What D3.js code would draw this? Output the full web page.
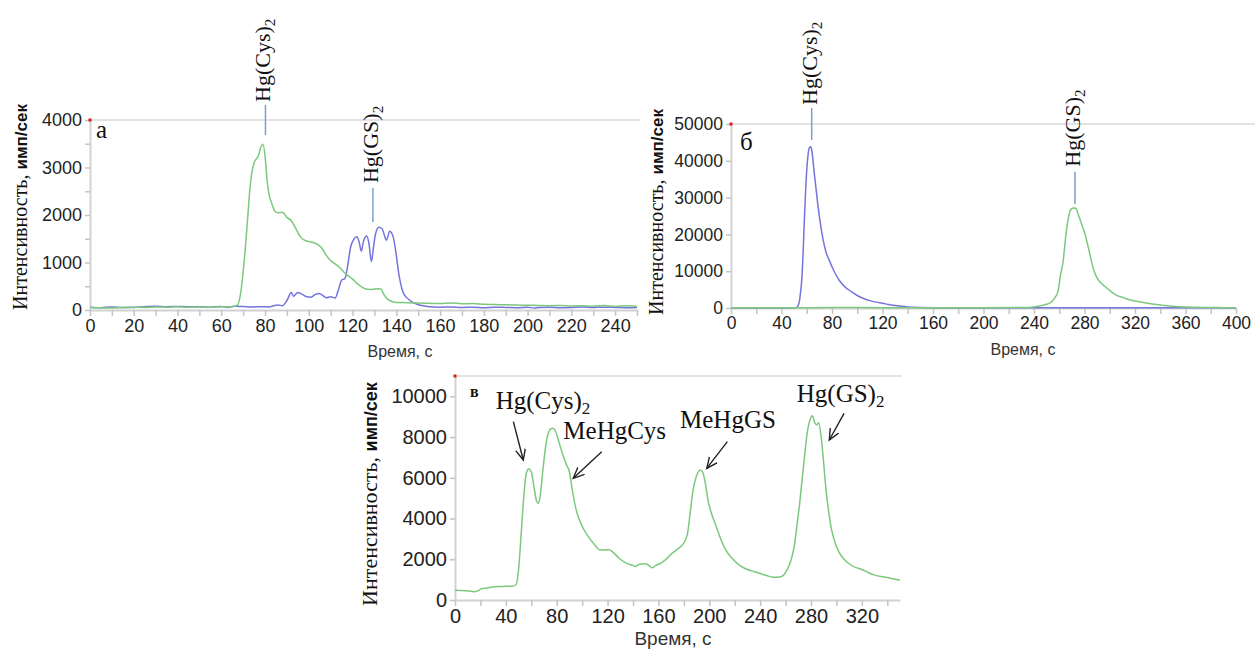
<!DOCTYPE html>
<html>
<head>
<meta charset="utf-8">
<script src="https://cdn.jsdelivr.net/npm/d3@7"></script>
<style>
body { margin: 0; background: #fff; }
svg { display: block; }
.axis .domain { stroke: #d2d2d2; stroke-width: 2; }
.axis .tick line { stroke: #c4c4c4; stroke-width: 1.5; }
.axis .tick text { fill: #222; }
</style>
</head>
<body>
<svg id="chart" width="1255" height="650"></svg>
<script>
// ---- panel а (Hg(Cys)2 green, Hg(GS)2 blue) ----
var aGreenTime = [0,5,10,15,20,25,30,35,40,45,50,55,60,63,66,67.5,69,70,71,72,73,74,75,76,77,78,79,80,81,82,83,84.5,86,88,90,92,94,96,98,100,102,104,106,108,110,112,114,116,118,120,122,124,126,128,130,132,133,134,136,138,140,145,150,155,160,165,170,175,180,185,190,195,200,205,210,215,220,225,230,235,240,245,250];
var aGreenVal = [50,45,40,55,60,55,65,60,70,60,65,60,70,65,80,110,400,800,1300,1900,2500,2900,3100,3180,3250,3420,3490,3250,2700,2400,2250,2080,2050,2060,1950,1880,1720,1550,1470,1440,1420,1380,1300,1150,1040,970,900,800,720,650,560,490,440,430,440,450,440,350,230,180,160,155,145,140,135,150,130,135,120,115,110,105,100,95,90,95,85,90,80,95,75,90,80];
var aBlueTime = [0,5,10,15,20,25,30,35,40,45,50,55,60,63,66,70,74,78,82,84,86,88,90,92,93,95,97,99,101,103,104.5,106,108,110,112,113.5,115,116.5,118,119,120.5,122,123,124,125,126.5,127.5,128.6,129.5,130.5,132,133.5,134.5,135.5,137,138.5,140,141,142,143,145,148,151,155,160,165,170,175,180,185,190,195,200,203,205,210,215,220,225,230,235,240,245,250];
var aBlueVal = [60,50,65,55,55,70,80,70,75,70,70,60,75,55,80,75,65,70,65,90,105,90,200,370,290,370,330,280,270,330,350,320,260,280,250,420,630,660,1000,1300,1480,1540,1430,1240,1450,1560,1400,1020,1300,1600,1740,1710,1580,1470,1660,1550,1150,800,550,380,250,150,100,70,60,65,55,60,50,60,55,50,60,40,55,60,50,55,65,55,60,55,50,55];
var aXTicks = d3.range(0, 251, 10);
var aYTicks = d3.range(0, 4001, 500);
var aPeakName = ["Hg(Cys)", "Hg(GS)"];
var aPeakTime = [80.2, 129.3];
var aPeakLo = [3684, 1853];
var aPeakHi = [4316, 2568];

// ---- panel б ----
var bBlueTime = [0,20,40,50,52,54,55,56,57,58,59,60,61,62,63,64,65,66,67,69,71,73,75,78,80,83,86,90,95,100,105,110,115,120,125,130,135,140,145,150,160,180,200,250,300,350,400];
var bBlueVal = [80,90,80,90,150,1500,4000,7500,14000,23000,31000,37500,41500,43500,43800,42800,40000,36500,33500,27500,22500,18500,15500,12800,11200,9100,7400,5800,4500,3400,2600,2000,1600,1300,950,650,450,300,200,150,100,80,70,60,50,50,50];
var bGreenTime = [0,40,80,120,160,200,230,240,245,250,254,257,259,261,263,265,267,269,271,273,275,277,280,283,286,289,292,296,301,305,310,315,320,325,330,340,350,360,370,380,390,400];
var bGreenVal = [100,80,120,100,90,100,150,300,600,1000,1700,3000,4500,9000,12500,19000,24000,26700,27200,27100,25500,23500,20500,16500,12000,8800,7200,5900,4500,3500,2900,2300,1900,1600,1300,800,450,250,180,130,100,80];
var bXTicks = d3.range(0, 401, 20);
var bYTicks = d3.range(0, 50001, 10000);
var bPeakName = ["Hg(Cys)", "Hg(GS)"];
var bPeakTime = [63.9, 272.5];
var bPeakLo = [45652, 28261];
var bPeakHi = [54348, 37038];

// ---- panel в ----
var cGreenTime = [0,5,10,15,18,21,25,30,35,40,45,48,50,52,54,56,58,60,62,64,65.5,67,69,71,73,75,77,79,82,85,88,90,92,95,98,101,105,110,114,118,121,125,130,135,140,142,145,149,152,155,158,161,165,170,175,180,183,185,187,189,191,193,195,197,199,202,205,209,213,218,222,226,230,235,240,245,250,255,258,261,264,267,269,271,273,275,277,279,281,283,284.5,286,288,290,292,294,296,299,302,306,310,315,320,325,330,335,340,345,350];
var cGreenVal = [480,470,450,410,450,560,590,640,660,670,680,750,1500,3200,5000,6200,6450,6300,5600,4900,4750,5100,6300,7400,8100,8380,8430,8300,7700,7100,6600,6300,5500,4500,3900,3500,3100,2700,2450,2450,2480,2300,2000,1800,1700,1640,1760,1780,1720,1580,1700,1780,1950,2250,2500,2800,3300,4300,5300,5900,6250,6380,6250,5700,4900,4200,3700,3000,2450,2050,1800,1620,1500,1400,1300,1200,1120,1130,1200,1450,1900,2700,3700,4700,5900,7100,8200,8800,9050,8700,8600,8700,8000,6700,5300,4300,3500,2800,2350,2000,1780,1600,1500,1350,1220,1150,1100,1030,980];
var cXTicks = d3.range(0, 341, 20);
var cYTicks = d3.range(0, 10001, 2000);
var cLabelText = ["Hg(Cys)", "MeHgCys", "MeHgGS", "Hg(GS)"];
var cLabelSub = ["2", "", "", "2"];
var cLabelTime = [32, 85.2, 177, 268.8];
var cLabelVal = [9364, 7891, 8432, 9738];
var cArrowFrom = [[45.9, 8756], [115.4, 7282], [214.2, 7774], [306, 9168]];
var cArrowTo = [[53.7, 6875], [93, 5976], [198, 6467], [294.4, 7857]];

var GREEN = "#7cc87c";
var BLUE = "#7474de";
var SANS = "'Liberation Sans', Arial, sans-serif";
var SERIF = "'Liberation Serif', 'Times New Roman', serif";

var svg = d3.select("#chart");

svg.append("defs").append("marker")
  .attr("id", "arrow")
  .attr("markerUnits", "userSpaceOnUse")
  .attr("markerWidth", 14).attr("markerHeight", 12)
  .attr("refX", 11).attr("refY", 5)
  .attr("orient", "auto")
  .append("path")
  .attr("d", "M0,0 L11,5 L0,10")
  .attr("fill", "none").attr("stroke", "#222").attr("stroke-width", 1.4);

function drawPanel(cfg) {
  var g = svg.append("g");
  var x = d3.scaleLinear().domain(cfg.xDomain).range(cfg.xRange);
  var y = d3.scaleLinear().domain(cfg.yDomain).range(cfg.yRange);

  // grid line on top
  g.append("line")
    .attr("x1", x(0)).attr("x2", cfg.gridEnd)
    .attr("y1", y(cfg.yDomain[1])).attr("y2", y(cfg.yDomain[1]))
    .attr("stroke", "#dadada").attr("stroke-width", 1.5);

  g.append("g").attr("class", "axis")
    .attr("transform", "translate(0," + y(0) + ")")
    .call(d3.axisBottom(x).tickValues(cfg.xTicks).tickSize(6).tickSizeOuter(0).tickPadding(3)
      .tickFormat(function(d) { return d % cfg.xLabelStep === 0 ? d : ""; }))
    .attr("font-family", SANS).attr("font-size", cfg.fontSize);

  g.append("g").attr("class", "axis")
    .attr("transform", "translate(" + x(0) + ",0)")
    .call(d3.axisLeft(y).tickValues(cfg.yTicks).tickSize(5).tickSizeOuter(0).tickPadding(3)
      .tickFormat(function(d) { return d % cfg.yLabelStep === 0 ? d : ""; }))
    .attr("font-family", SANS).attr("font-size", cfg.fontSize);

  // little red mark at the corner
  g.append("rect")
    .attr("x", x(0) - 1.5).attr("y", y(cfg.yDomain[1]) - 1.5)
    .attr("width", 3).attr("height", 3).attr("fill", "#e01818");

  var line = d3.line()
    .x(function(d) { return x(d[0]); })
    .y(function(d) { return y(d[1]); })
    .curve(d3.curveMonotoneX);

  cfg.series.forEach(function(s) {
    g.append("path")
      .datum(d3.zip(s.t, s.v))
      .attr("fill", "none").attr("stroke", s.color).attr("stroke-width", 1.5)
      .attr("d", line);
  });

  // y title: serif part + bold sans part
  var yt = g.append("text")
    .attr("transform", "translate(" + cfg.yTitle[0] + "," + cfg.yTitle[1] + ") rotate(-90)")
    .attr("text-anchor", "middle").attr("fill", "#111");
  yt.append("tspan").attr("font-family", SERIF).attr("font-size", cfg.yTitleSize[0]).text("Интенсивность, ");
  yt.append("tspan").attr("font-family", SANS).attr("font-weight", "bold").attr("font-size", cfg.yTitleSize[1]).text("имп/сек");

  g.append("text")
    .attr("x", cfg.xTitle[0]).attr("y", cfg.xTitle[1])
    .attr("text-anchor", "middle").attr("font-family", SANS).attr("font-size", cfg.xTitleSize)
    .attr("fill", "#333").text("Время, с");

  g.append("text")
    .attr("x", cfg.letter[0]).attr("y", cfg.letter[1])
    .attr("font-family", SERIF).attr("font-size", cfg.letterSize).attr("font-weight", cfg.letterWeight || "normal")
    .attr("fill", "#111").text(cfg.letterText);

  return { g: g, x: x, y: y };
}

function peakLabels(p, names, times, lo, hi, gap) {
  names.forEach(function(n, i) {
    var px = p.x(times[i]);
    p.g.append("line")
      .attr("x1", px).attr("x2", px)
      .attr("y1", p.y(lo[i])).attr("y2", p.y(hi[i]))
      .attr("stroke", "#7ba0cc").attr("stroke-width", 1.5);
    var t = p.g.append("text")
      .attr("transform", "translate(" + (px + 5) + "," + (p.y(hi[i]) - gap[i]) + ") rotate(-90)")
      .attr("font-family", SERIF).attr("font-size", 22).attr("fill", "#111");
    t.append("tspan").text(n);
    t.append("tspan").attr("font-size", 15).attr("dy", 5).text("2");
  });
}

var pa = drawPanel({
  xDomain: [0, 250], xRange: [90, 637],
  yDomain: [0, 4000], yRange: [310, 120],
  gridEnd: 640,
  xTicks: aXTicks, xLabelStep: 20,
  yTicks: aYTicks, yLabelStep: 1000,
  fontSize: 18,
  series: [
    { t: aBlueTime, v: aBlueVal, color: BLUE },
    { t: aGreenTime, v: aGreenVal, color: GREEN }
  ],
  yTitle: [27, 207], yTitleSize: [20, 17],
  xTitle: [400, 357], xTitleSize: 16,
  letter: [96, 138], letterSize: 25, letterText: "а"
});
peakLabels(pa, aPeakName, aPeakTime, aPeakLo, aPeakHi, [3, 5]);

var pb = drawPanel({
  xDomain: [0, 400], xRange: [731, 1236],
  yDomain: [0, 50000], yRange: [308, 124],
  gridEnd: 1255,
  xTicks: bXTicks, xLabelStep: 40,
  yTicks: bYTicks, yLabelStep: 10000,
  fontSize: 17.5,
  series: [
    { t: bBlueTime, v: bBlueVal, color: BLUE },
    { t: bGreenTime, v: bGreenVal, color: GREEN }
  ],
  yTitle: [663, 212], yTitleSize: [20, 17],
  xTitle: [1023, 355], xTitleSize: 16,
  letter: [740, 150], letterSize: 25, letterText: "б"
});
peakLabels(pb, bPeakName, bPeakTime, bPeakLo, bPeakHi, [3, 5]);

var pc = drawPanel({
  xDomain: [0, 350], xRange: [455, 900],
  yDomain: [0, 11000], yRange: [600, 376],
  gridEnd: 902,
  xTicks: cXTicks, xLabelStep: 40,
  yTicks: cYTicks, yLabelStep: 2000,
  fontSize: 20,
  series: [
    { t: cGreenTime, v: cGreenVal, color: GREEN }
  ],
  yTitle: [377, 494], yTitleSize: [22, 18],
  xTitle: [673, 645], xTitleSize: 19,
  letter: [470, 397], letterSize: 16, letterWeight: "bold", letterText: "в"
});

// labels with arrows in panel в
cLabelText.forEach(function(txt, i) {
  var t = pc.g.append("text")
    .attr("x", pc.x(cLabelTime[i])).attr("y", pc.y(cLabelVal[i]))
    .attr("font-family", SERIF).attr("font-size", 25).attr("fill", "#111");
  t.append("tspan").text(txt);
  if (cLabelSub[i]) t.append("tspan").attr("font-size", 17).attr("dy", 5).text(cLabelSub[i]);

  pc.g.append("line")
    .attr("x1", pc.x(cArrowFrom[i][0])).attr("y1", pc.y(cArrowFrom[i][1]))
    .attr("x2", pc.x(cArrowTo[i][0])).attr("y2", pc.y(cArrowTo[i][1]))
    .attr("stroke", "#222").attr("stroke-width", 1.4)
    .attr("marker-end", "url(#arrow)");
});
</script>
</body>
</html>
